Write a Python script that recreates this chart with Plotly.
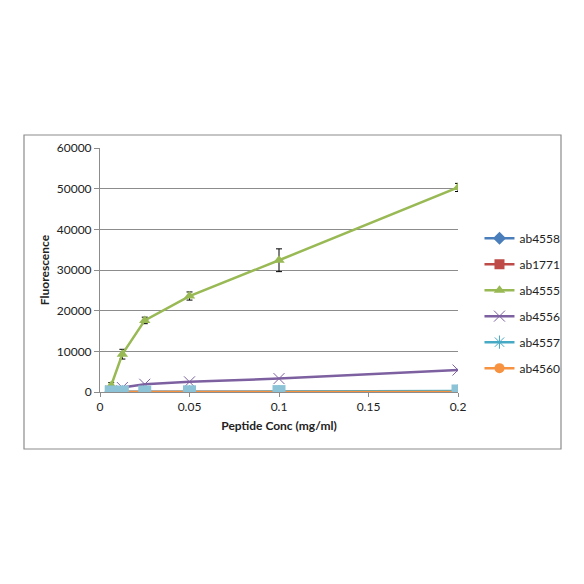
import plotly.graph_objects as go

# Concentraciones (mg/ml)
conc = [0.00625, 0.0125, 0.025, 0.05, 0.1, 0.2]

ab4558 = [0, 0, 0, 0, 0, 0]
ab1771 = [0, 0, 0, 0, 0, 0]
ab4555 = [1600, 9300, 17600, 23600, 32400, 50300]
ab4555_err = [700, 1200, 800, 1000, 2800, 1000]
ab4556 = [300, 1100, 1900, 2500, 3300, 5400]
ab4557 = [0, 0, 0, 50, 100, 250]
ab4560 = [0, 0, 0, 0, 0, 0]

x_ticks = [0, 0.05, 0.1, 0.15, 0.2]
x_labels = ["0", "0.05", "0.1", "0.15", "0.2"]
y_ticks = [0, 10000, 20000, 30000, 40000, 50000, 60000]
y_labels = ["0", "10000", "20000", "30000", "40000", "50000", "60000"]

FONT = "Lato, Open Sans, Arial, sans-serif"

series = [
    ("ab4558", ab4558, "#4A7EBB", "diamond"),
    ("ab1771", ab1771, "#BE4B48", "square"),
    ("ab4555", ab4555, "#98B954", "triangle-up"),
    ("ab4556", ab4556, "#7D60A0", "x-thin"),
    ("ab4557", ab4557, "#46AAC5", "asterisk"),
    ("ab4560", ab4560, "#F69240", "circle"),
]

fig = go.Figure()

for name, vals, color, symbol in series:
    err = None
    if name == "ab4555":
        err = dict(type="data", array=ab4555_err, visible=True,
                   color="black", thickness=1, width=3)
    thin = symbol in ("x-thin", "asterisk")
    fig.add_trace(go.Scatter(
        x=conc, y=vals, name=name, mode="lines+markers",
        line=dict(color=color, width=2.5),
        marker=dict(symbol=symbol, size=11 if thin else 10, color=color,
                    line=dict(color=color, width=1 if thin else 0)),
        error_y=err,
        legendgroup=name,
    ))

# cuadrados celestes que se ven encima en la linea base
fig.add_trace(go.Scatter(
    x=conc, y=ab4557, mode="markers", showlegend=False,
    marker=dict(symbol="square", size=13, color="#8DC3D6"),
    hoverinfo="skip",
))

# marco exterior del grafico
fig.add_shape(type="rect", xref="paper", yref="paper",
              x0=-0.2123, x1=1.2877, y0=-0.2336, y1=1.0533,
              line=dict(color="#8C8C8C", width=1.2), layer="below")

fig.update_layout(
    width=584, height=584,
    margin=dict(l=92, r=134, t=140, b=200),
    paper_bgcolor="white", plot_bgcolor="white",
    font=dict(family=FONT, size=12, color="#222"),
    showlegend=True,
    legend=dict(x=1.06, y=0.69, xanchor="left", yanchor="top",
                font=dict(size=12, color="#222"),
                tracegroupgap=7, itemwidth=30,
                bgcolor="rgba(0,0,0,0)"),
    xaxis=dict(
        range=[0, 0.2], tickvals=x_ticks, ticktext=x_labels,
        showgrid=False, zeroline=False,
        showline=True, linecolor="#8C8C8C", linewidth=1,
        ticks="outside", ticklen=4, tickcolor="#8C8C8C",
        title=dict(text="<b>Peptide Conc (mg/ml)</b>", font=dict(size=12), standoff=8),
    ),
    yaxis=dict(
        range=[0, 60000], tickvals=y_ticks, ticktext=y_labels,
        showgrid=True, gridcolor="#8C8C8C", gridwidth=1,
        zeroline=False,
        showline=True, linecolor="#8C8C8C", linewidth=1,
        ticks="outside", ticklen=5, tickcolor="#8C8C8C",
        title=dict(text="<b>Fluorescence</b>", font=dict(size=12), standoff=4),
    ),
)

fig.write_html("out.html")
